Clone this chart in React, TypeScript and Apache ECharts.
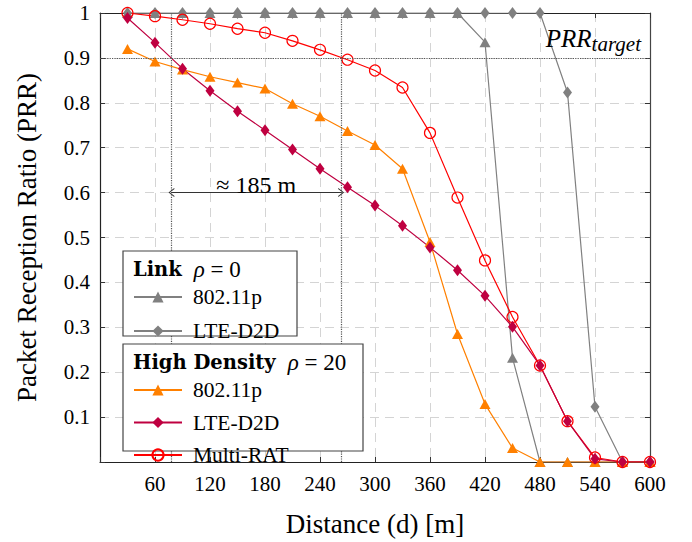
import React, { useEffect, useRef } from "react";
import * as echarts from "echarts";

const distances = [30, 60, 90, 120, 150, 180, 210, 240, 270, 300, 330, 360, 390, 420, 450, 480, 510, 540, 570, 600];
const linkWifi = [1, 1, 1, 1, 1, 1, 1, 1, 1, 1, 1, 1, 1, 0.935, 0.232, 0, 0, 0, 0, 0];
const linkLte = [1, 1, 1, 1, 1, 1, 1, 1, 1, 1, 1, 1, 1, 1, 1, 1, 0.823, 0.123, 0, 0];
const hdWifi = [0.92, 0.892, 0.874, 0.858, 0.845, 0.832, 0.798, 0.77, 0.737, 0.706, 0.653, 0.49, 0.285, 0.129, 0.031, 0, 0, 0, 0, 0];
const hdLte = [0.989, 0.934, 0.876, 0.827, 0.781, 0.739, 0.696, 0.653, 0.612, 0.571, 0.526, 0.478, 0.427, 0.37, 0.301, 0.215, 0.091, 0.007, 0, 0];
const multiRat = [1, 0.993, 0.985, 0.976, 0.965, 0.956, 0.938, 0.918, 0.896, 0.872, 0.834, 0.733, 0.589, 0.449, 0.323, 0.215, 0.091, 0.01, 0, 0];

const prrTarget = 0.9;
const gapStart = 78;
const gapEnd = 263;
const arrowLevel = 0.6;
const gapLabel = "≈ 185 m";

const FONT = "Liberation Serif";
const BOLD_FONT = "DejaVu Serif";
const GRAY = "#808080";
const ORANGE = "#FF8000";
const PURPLE = "#BF0040";
const RED = "#FF0000";

const pair = (ys: number[]) => distances.map((d, i) => [d, ys[i]]);
const chevron = "path://M0,9.5 L5,0 L10,9.5 L8.9,10 L5,2.4 L1.1,10 Z";

export default function App() {
  const ref = useRef<HTMLDivElement>(null);
  useEffect(() => {
    if (!ref.current) return;
    const chart = echarts.init(ref.current, null, { renderer: "svg" });
    const axisLabelStyle = { color: "#000", fontFamily: FONT, fontSize: 21 };
    const tick = { show: true, inside: true, length: 5, lineStyle: { color: "#333", width: 1 } };
    const split = { show: true, lineStyle: { color: "#d4d4d4", type: [9, 6] as any, width: 1 } };
    const lineSeries = (name: string, ys: number[], color: string, symbol: string, size: any, extra: any = {}) => ({
      name,
      type: "line",
      data: pair(ys),
      symbol,
      symbolSize: size,
      lineStyle: { color, width: 1.2 },
      itemStyle: { color },
      ...extra,
    });
    const titleRich = {
      b: { fontFamily: BOLD_FONT, fontSize: 19.5, fontWeight: "bold", fill: "#000" },
      s: { fontFamily: FONT, fontSize: 22, fill: "#000", width: 12 },
      m: { fontFamily: FONT, fontSize: 23, fontStyle: "italic", fill: "#000" },
      r: { fontFamily: FONT, fontSize: 23, fill: "#000" },
    };
    chart.setOption({
      animation: false,
      backgroundColor: "#fff",
      grid: { left: 100, right: 42, top: 13, bottom: 73 },
      xAxis: [
        {
          type: "value", min: 0, max: 600, interval: 60,
          name: "Distance (d) [m]", nameLocation: "middle", nameGap: 48,
          nameTextStyle: { color: "#000", fontFamily: FONT, fontSize: 27 },
          axisLine: { show: true, lineStyle: { color: "#222", width: 1.2 } },
          axisTick: tick,
          axisLabel: { ...axisLabelStyle, margin: 11, formatter: (v: number) => (v === 0 ? "" : String(v)) },
          splitLine: split,
        },
        {
          type: "value", min: 0, max: 600, interval: 60, position: "top",
          axisLine: { show: true, onZero: false, lineStyle: { color: "#222", width: 1.2 } },
          axisTick: tick, axisLabel: { show: false }, splitLine: { show: false },
        },
      ],
      yAxis: [
        {
          type: "value", min: 0, max: 1, interval: 0.1,
          name: "Packet Reception Ratio (PRR)", nameLocation: "middle", nameGap: 60,
          nameTextStyle: { color: "#000", fontFamily: FONT, fontSize: 27 },
          axisLine: { show: true, lineStyle: { color: "#222", width: 1.2 } },
          axisTick: tick,
          axisLabel: { ...axisLabelStyle, margin: 10, formatter: (v: number) => (v === 0 ? "" : String(Math.round(v * 10) / 10)) },
          splitLine: split,
        },
        {
          type: "value", min: 0, max: 1, interval: 0.1, position: "right",
          axisLine: { show: true, onZero: false, lineStyle: { color: "#444", width: 1.2 } },
          axisTick: tick, axisLabel: { show: false }, splitLine: { show: false },
        },
      ],
      legend: [
        {
          data: ["Link 802.11p", "Link LTE-D2D"],
          orient: "vertical", left: 133, top: 286, padding: 0,
          itemWidth: 48, itemHeight: 14, itemGap: 12, z: 10,
          formatter: (n: string) => n.replace(/^(Link|HD) /, ""),
          textStyle: { color: "#000", fontFamily: FONT, fontSize: 21.5, padding: [0, 0, 0, 6] },
        },
        {
          data: ["HD 802.11p", "HD LTE-D2D", "Multi-RAT"],
          orient: "vertical", left: 133, top: 379, padding: 0,
          itemWidth: 48, itemHeight: 14, itemGap: 10.5, z: 10,
          formatter: (n: string) => n.replace(/^(Link|HD) /, ""),
          textStyle: { color: "#000", fontFamily: FONT, fontSize: 21.5, padding: [0, 0, 0, 6] },
        },
      ],
      graphic: [
        { type: "rect", z: 8, shape: { x: 123, y: 251, width: 174, height: 85 }, style: { fill: "#fff", stroke: "#444", lineWidth: 1.2 } },
        { type: "rect", z: 8, shape: { x: 123, y: 344, width: 240, height: 107 }, style: { fill: "#fff", stroke: "#444", lineWidth: 1.2 } },
        {
          type: "text", z: 12, x: 133, y: 269,
          style: { text: "{b|Link}{s| }{m|ρ}{r| = 0}", verticalAlign: "middle", rich: titleRich },
        },
        {
          type: "text", z: 12, x: 133, y: 362,
          style: { text: "{b|High Density}{s| }{m|ρ}{r| = 20}", verticalAlign: "middle", rich: titleRich },
        },
      ],
      series: [
        {
          name: "annotations", type: "line", data: [], silent: true,
          markLine: {
            silent: true, symbol: ["none", "none"], animation: false,
            data: [
              {
                yAxis: prrTarget,
                lineStyle: { color: "#555", type: "dotted", width: 1.2 },
                label: {
                  show: true, position: "insideEndTop", distance: [9, 3],
                  formatter: "{a|PRR}{b|target}",
                  rich: {
                    a: { fontFamily: FONT, fontSize: 25, fontStyle: "italic", color: "#000", padding: [0, 0, 4, 0] },
                    b: { fontFamily: FONT, fontSize: 21, fontStyle: "italic", color: "#000", verticalAlign: "bottom", lineHeight: 20 },
                  },
                },
              },
              [
                { coord: [gapStart, 0], lineStyle: { color: "#555", type: "dotted", width: 1.2 }, label: { show: false } },
                { coord: [gapStart, 1] },
              ],
              [
                { coord: [gapEnd, 0], lineStyle: { color: "#555", type: "dotted", width: 1.2 }, label: { show: false } },
                { coord: [gapEnd, 1] },
              ],
              [
                {
                  coord: [gapStart, arrowLevel], symbol: chevron, symbolSize: [9, 6],
                  lineStyle: { color: "#333", type: "solid", width: 1.2 },
                  label: {
                    show: true, position: "insideMiddleTop", distance: 2, formatter: gapLabel,
                    color: "#000", fontFamily: FONT, fontSize: 24, lineHeight: 12,
                  },
                },
                { coord: [gapEnd, arrowLevel], symbol: chevron, symbolSize: [9, 6] },
              ],
            ],
          },
        },
        lineSeries("Link LTE-D2D", linkLte, GRAY, "diamond", [9, 12]),
        lineSeries("Link 802.11p", linkWifi, GRAY, "triangle", [11, 10]),
        lineSeries("HD 802.11p", hdWifi, ORANGE, "triangle", [11, 10]),
        lineSeries("Multi-RAT", multiRat, RED, "circle", 11, {
          itemStyle: { color: "rgba(255,255,255,0)", borderColor: RED, borderWidth: 1.2 },
        }),
        lineSeries("HD LTE-D2D", hdLte, PURPLE, "diamond", [9, 12]),
      ],
    });
    return () => chart.dispose();
  }, []);
  return <div ref={ref} style={{ position: "absolute", left: 0, top: 0, width: 692, height: 542 }} />;
}
